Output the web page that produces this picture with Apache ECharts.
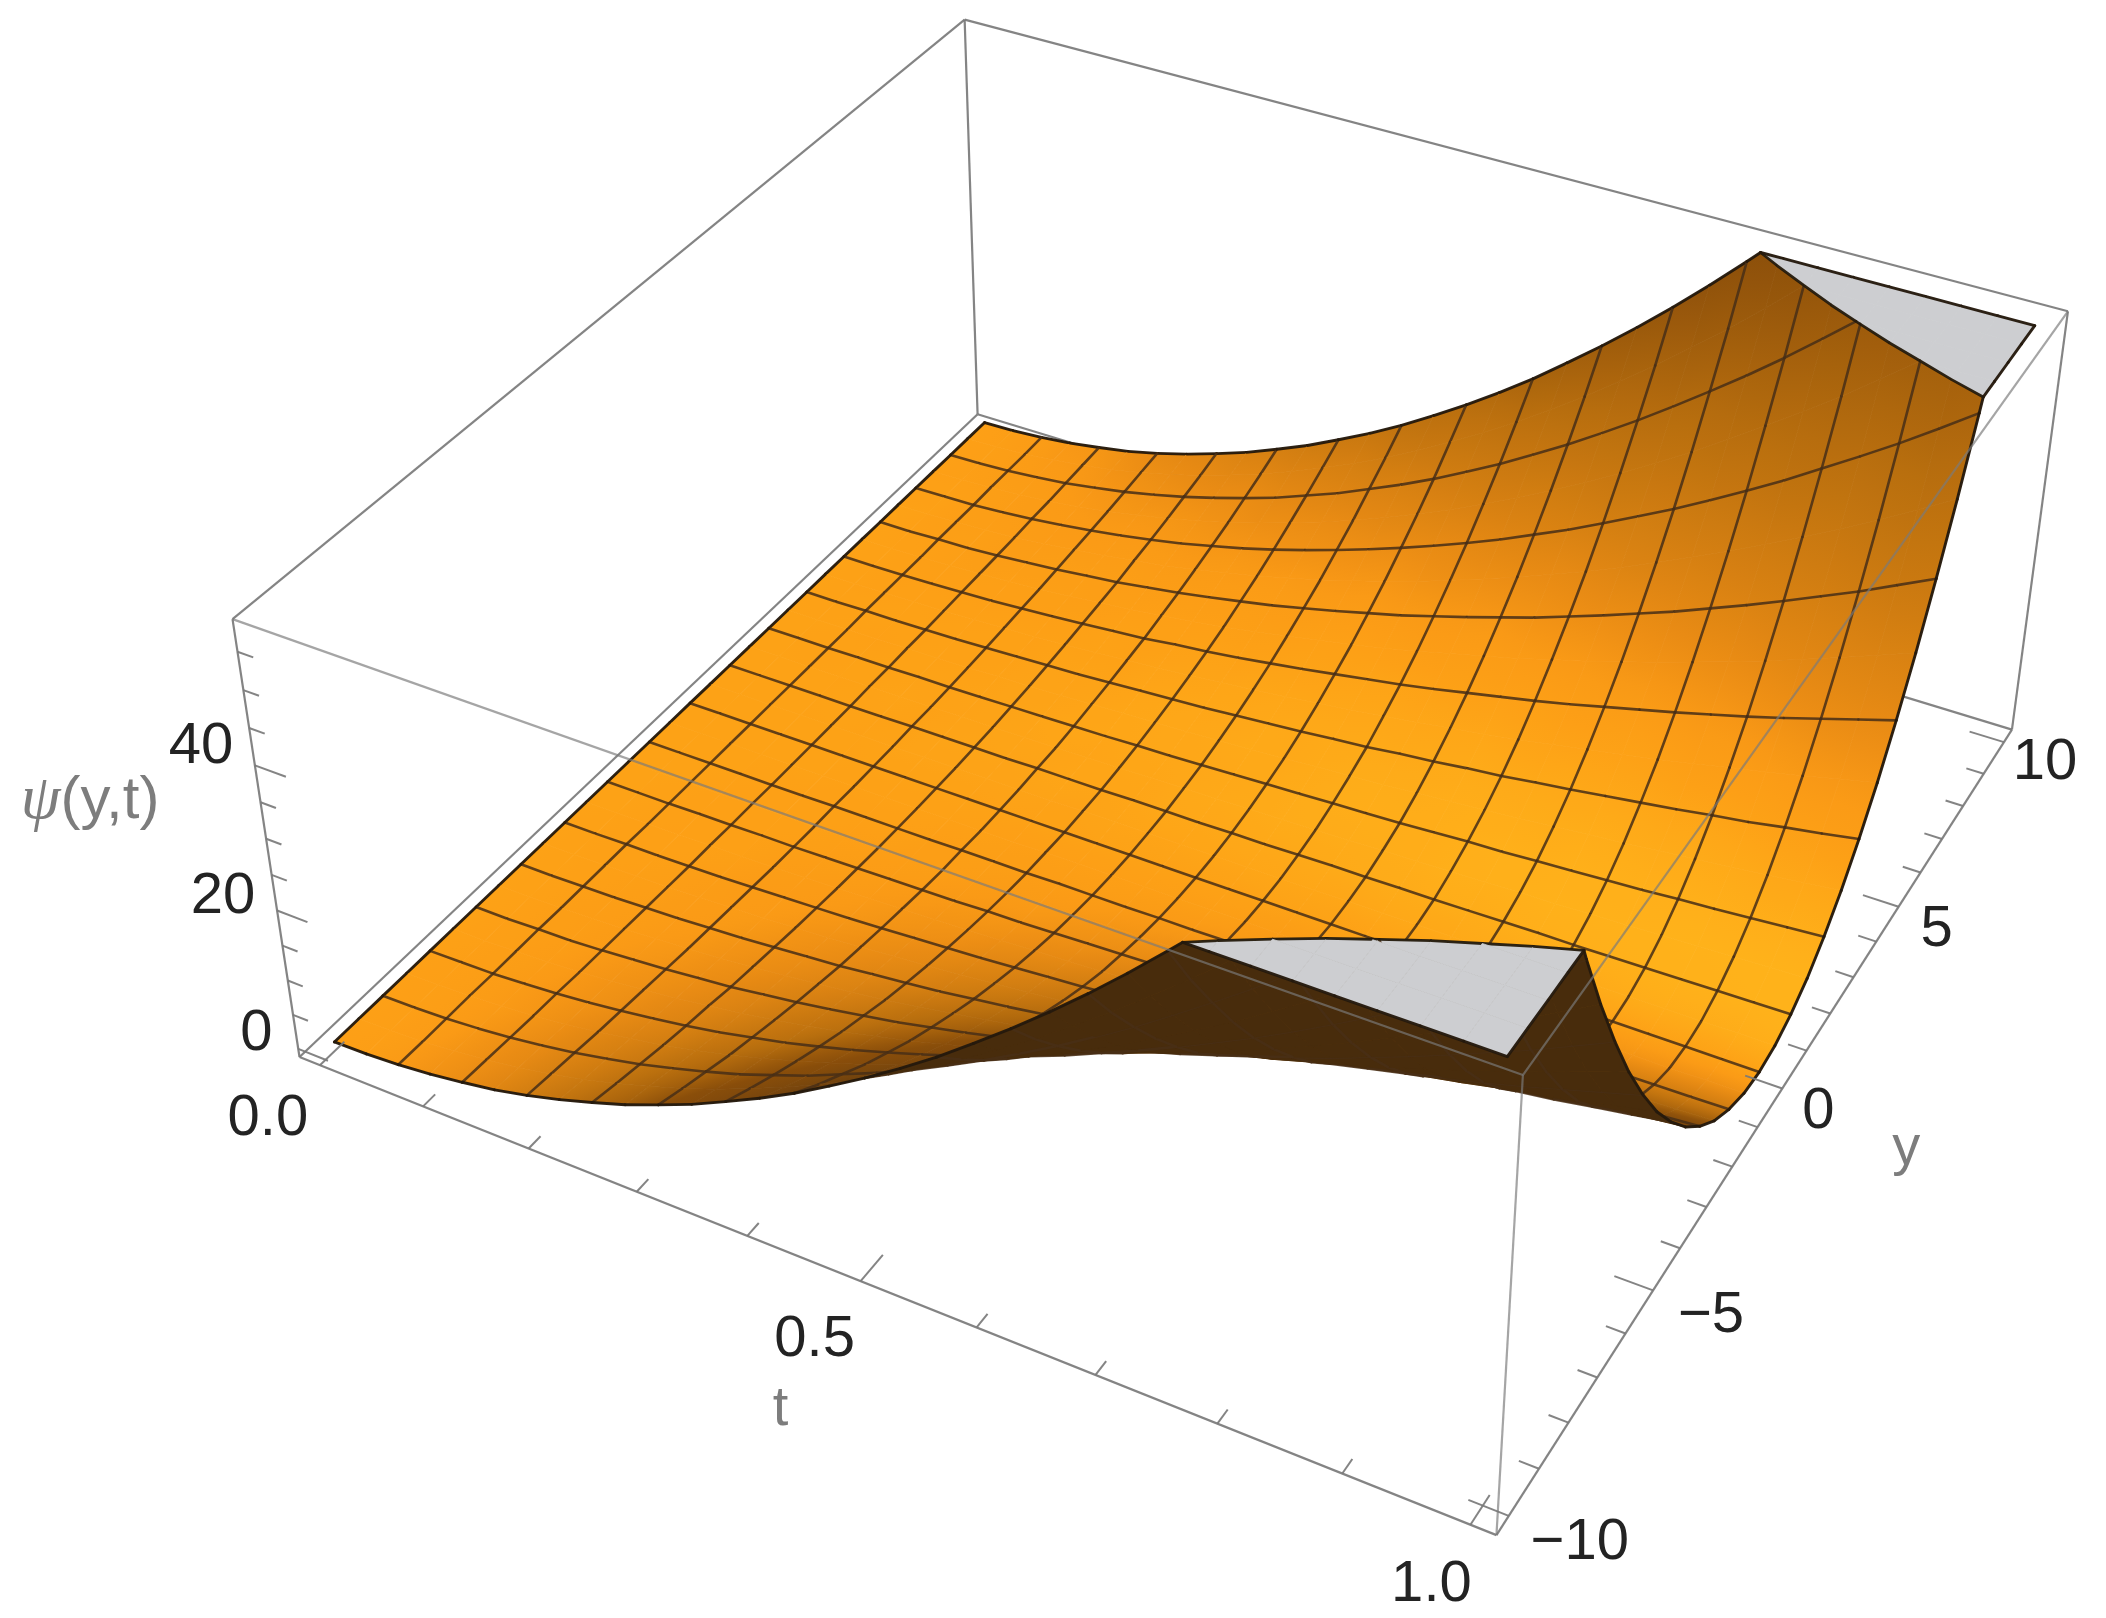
<!DOCTYPE html>
<html><head><meta charset="utf-8">
<style>html,body{margin:0;background:#fff}#c{width:2106px;height:1618px;filter:blur(0.6px)}</style>
<script src="https://cdn.jsdelivr.net/npm/echarts@6/dist/echarts.min.js"></script>
</head><body><div id="c"></div>
<script>
// ---- data ----
const tTicks=[0,0.1,0.2,0.3,0.4,0.5,0.6,0.7,0.8,0.9,1];
const tLabels=["0.0","0.5","1.0"];
const tLabelValues=[0,0.5,1];
const yTicks=[-10,-9,-8,-7,-6,-5,-4,-3,-2,-1,0,1,2,3,4,5,6,7,8,9,10];
const yLabels=["\u221210","\u22125","0","5","10"];
const yLabelValues=[-10,-5,0,5,10];
const zTicks=[0,5,10,15,20,25,30,35,40,45,50,55];
const zLabels=["0","20","40"];
const zLabelValues=[0,20,40];
const zTop=58;
// psi at |y| = 0, 0.625, ... 10 (rows), t = 0, 1/32, ... 1 (columns); the surface is mirror-symmetric in y
const psiRows=[
[0,0,0,0,0,0,0,0,0,0,0,0,0,0,0,0,0,0,0,0,0,0,0,0,0,0,0,0,0,0,0,0,0],
[0,0,0,0,0,0,0,0,0,0,0,0,.1,.1,.1,.1,.1,.1,.1,.1,.2,.2,.2,.2,.2,.2,.3,.3,.3,.3,.3,.4,.4],
[0,0,0,0,0,0,.1,.1,.1,.1,.2,.2,.2,.3,.3,.3,.4,.4,.5,.6,.6,.7,.7,.8,.9,1,1,1.1,1.2,1.3,1.4,1.5,1.6],
[0,0,0,0,.1,.1,.1,.2,.2,.3,.3,.4,.5,.6,.7,.8,.9,1,1.1,1.2,1.4,1.5,1.7,1.8,2,2.1,2.3,2.5,2.7,2.9,3.1,3.3,3.5],
[0,0,0,.1,.1,.2,.2,.3,.4,.5,.6,.7,.9,1,1.2,1.4,1.6,1.8,2,2.2,2.4,2.7,3,3.2,3.5,3.8,4.1,4.4,4.8,5.1,5.5,5.9,6.3],
[0,0,0,.1,.2,.2,.3,.5,.6,.8,1,1.2,1.4,1.6,1.9,2.1,2.4,2.8,3.1,3.4,3.8,4.2,4.6,5,5.5,6,6.4,7,7.5,8,8.6,9.2,9.8],
[0,0,.1,.1,.2,.3,.5,.7,.9,1.1,1.4,1.7,2,2.3,2.7,3.1,3.5,4,4.4,5,5.5,6.1,6.6,7.3,7.9,8.6,9.3,10,10.8,11.5,12.4,13.2,14.1],
[0,0,.1,.2,.3,.5,.7,.9,1.2,1.5,1.9,2.3,2.7,3.2,3.7,4.2,4.8,5.4,6.1,6.7,7.5,8.2,9,9.9,10.8,11.7,12.6,13.6,14.7,15.7,16.8,18,19.1],
[0,0,.1,.2,.4,.6,.9,1.2,1.6,2,2.4,3,3.5,4.1,4.8,5.5,6.3,7.1,7.9,8.8,9.8,10.8,11.8,12.9,14.1,15.3,16.5,17.8,19.1,20.5,22,23.5,25],
[0,0,.1,.3,.5,.8,1.1,1.5,2,2.5,3.1,3.7,4.4,5.2,6.1,7,7.9,8.9,10,11.2,12.4,13.6,15,16.3,17.8,19.3,20.9,22.5,24.2,26,27.8,29.7,31.6],
[0,0,.2,.3,.6,1,1.4,1.9,2.4,3.1,3.8,4.6,5.5,6.4,7.5,8.6,9.8,11,12.4,13.8,15.3,16.8,18.5,20.2,22,23.8,25.8,27.8,29.9,32.1,34.3,36.7,39.1],
[0,0,.2,.4,.7,1.2,1.7,2.3,3,3.7,4.6,5.6,6.6,7.8,9,10.4,11.8,13.3,15,16.7,18.5,20.4,22.3,24.4,26.6,28.9,31.2,33.7,36.2,38.8,41.5,44.4,47.3],
[0,.1,.2,.5,.9,1.4,2,2.7,3.5,4.4,5.5,6.6,7.9,9.3,10.8,12.4,14.1,15.9,17.8,19.8,22,24.2,26.6,29.1,31.6,34.3,37.1,40,43.1,46.2,49.4,52.8,56.3],
[0,.1,.3,.6,1,1.6,2.3,3.2,4.1,5.2,6.4,7.8,9.3,10.9,12.6,14.5,16.5,18.6,20.9,23.3,25.8,28.4,31.2,34.1,37.1,40.3,43.6,47,50.5,54.2,58,62,66],
[0,.1,.3,.7,1.2,1.9,2.7,3.7,4.8,6.1,7.5,9,10.8,12.6,14.7,16.8,19.1,21.6,24.2,27,29.9,33,36.2,39.6,43.1,46.7,50.5,54.5,58.6,62.9,67.3,71.9,76.6],
[0,.1,.3,.8,1.4,2.1,3.1,4.2,5.5,7,8.6,10.4,12.4,14.5,16.8,19.3,22,24.8,27.8,31,34.3,37.9,41.5,45.4,49.4,53.6,58,62.6,67.3,72.2,77.2,82.5,87.9],
[0,.1,.4,.9,1.6,2.4,3.5,4.8,6.3,7.9,9.8,11.8,14.1,16.5,19.1,22,25,28.2,31.6,35.3,39.1,43.1,47.3,51.7,56.3,61,66,71.2,76.6,82.1,87.9,93.8,100]
];
// ---- camera: box coordinates -> plane of the hidden axes ----
const S=2106/1568;
function box(u,v,w){
  const D=1-.11755*u+.21577*v-.07*w;
  return [(760.2*u+661.9*v-62*w+223)*S/D,(221.6*u-412*v-358.3*w+787)*S/D,D];
}
const U=t=>(t+.02)/1.04, V=y=>(y+10.4)/20.8, W=z=>.02+.96*z/zTop;
const proj=(p)=>box(U(p[0]),V(p[1]),W(p[2]));
const N=32, R=32;
const gridT=i=>i/N, gridY=j=>-10+j*20/R;
const psiAt=(i,j)=>psiRows[Math.abs(j-R/2)][i];
const vert=(i,j)=>[gridT(i),gridY(j),psiAt(i,j)];
// ---- shading ramp ----
const ramp=[[.25,[108,64,14]],[.46,[138,78,10]],[.565,[184,110,14]],[.71,[234,140,20]],[.76,[250,154,22]],[.80,[253,160,22]],[.875,[255,177,26]],[.95,[255,186,28]]];
function shade(d){
  if(d<=ramp[0][0])return ramp[0][1];
  for(let k=1;k<ramp.length;k++){ if(d<=ramp[k][0]){const a=ramp[k-1],b=ramp[k],f=(d-a[0])/(b[0]-a[0]);
    return a[1].map((c,n)=>c+(b[1][n]-c)*f);} }
  return ramp[ramp.length-1][1];
}
const rgb=c=>'rgb('+c.map(x=>Math.round(x)).join(',')+')';
// light value at a grid node from neighbouring table entries
function nodeLight(i,j){
  const i0=Math.max(i-1,0),i1=Math.min(i+1,N),j0=Math.max(j-1,0),j1=Math.min(j+1,R);
  const a=.4*(W(psiAt(i1,j))-W(psiAt(i0,j)))/(U(gridT(i1))-U(gridT(i0)));
  const b=.4*(W(psiAt(i,j1))-W(psiAt(i,j0)))/(V(gridY(j1))-V(gridY(j0)));
  const L=Math.hypot(a,b,1),nu=-a/L,nv=-b/L,nw=1/L;
  const x=.88*nu+.47*nv, y=-.33*nu+.52*nv+.79*nw, z=.371*nu-.695*nv+.613*nw;
  return .2*x+.3*y+.93*z;
}
function isBack(q){
  const P=q.map(proj);let area=0;
  for(let k=0;k<4;k++){const a=P[k],b=P[(k+1)%4];area+=a[0]*b[1]-b[0]*a[1];}
  return area>0;
}
function clipZ(poly){
  const low=[],high=[],cut=[];
  for(let k=0;k<poly.length;k++){
    const a=poly[k],b=poly[(k+1)%poly.length];
    if(a[2]<=zTop)low.push(a);else high.push([a[0],a[1],zTop]);
    if((a[2]<=zTop)!==(b[2]<=zTop)){
      const f=(zTop-a[2])/(b[2]-a[2]);
      const c=[a[0]+(b[0]-a[0])*f,a[1]+(b[1]-a[1])*f,zTop];
      low.push(c);high.push(c);cut.push(c);
    }
  }
  return {low,high,cut};
}
const items=[];
const dep=ps=>ps.reduce((s,p)=>s+proj(p)[2],0)/ps.length;
for(let i=0;i<N;i++)for(let j=0;j<R;j++){
  const q=[vert(i,j),vert(i+1,j),vert(i+1,j+1),vert(i,j+1)];
  const c=clipZ(q);
  const depth=dep(q),back=isBack(q);
  const lights=[nodeLight(i,j),nodeLight(i+1,j),nodeLight(i+1,j+1),nodeLight(i,j+1)];
  if(c.low.length>2)items.push({k:'p',pts:c.low,q,lights,back,depth});
  if(c.high.length>2)items.push({k:'p',pts:c.high,flat:'#cdced1',depth});
  if(c.cut.length===2)items.push({k:'l',pts:c.cut,stroke:'rgba(36,26,12,.95)',lw:2.8,depth:depth-.006});
}
function seg(a,b,edge,keepCap){
  const depth=dep([a,b])-.006;
  const st=edge?'rgba(36,25,12,.96)':'rgba(72,46,22,.86)',lw=edge?2.9:2.6;
  const za=a[2],zb=b[2];
  if(za<=zTop&&zb<=zTop){items.push({k:'l',pts:[a,b],stroke:st,lw,depth});return;}
  if(za>zTop&&zb>zTop){ if(keepCap)items.push({k:'l',pts:[[a[0],a[1],zTop],[b[0],b[1],zTop]],stroke:st,lw,depth}); return;}
  const f=(zTop-za)/(zb-za),c=[a[0]+(b[0]-a[0])*f,a[1]+(b[1]-a[1])*f,zTop];
  const lo=za<=zTop?a:b,hi=za<=zTop?b:a;
  items.push({k:'l',pts:[lo,c],stroke:st,lw,depth});
  if(keepCap)items.push({k:'l',pts:[c,[hi[0],hi[1],zTop]],stroke:st,lw,depth});
}
for(let i=0;i<=N;i+=2)for(let j=0;j<R;j++)seg(vert(i,j),vert(i,j+1),i===0||i===N,i===N);
for(let j=0;j<=R;j+=2)for(let i=0;i<N;i++)seg(vert(i,j),vert(i+1,j),j===0||j===R,j===0||j===R);
items.sort((a,b)=>b.depth-a.depth);
// screen-space gradient that best follows the light values of a cell's four nodes
function cellFill(P,d){
  const mx=(P[0][0]+P[1][0]+P[2][0]+P[3][0])/4,my=(P[0][1]+P[1][1]+P[2][1]+P[3][1])/4,md=(d[0]+d[1]+d[2]+d[3])/4;
  let sxx=0,sxy=0,syy=0,sxd=0,syd=0;
  for(let k=0;k<4;k++){const x=P[k][0]-mx,y=P[k][1]-my,v=d[k]-md;sxx+=x*x;sxy+=x*y;syy+=y*y;sxd+=x*v;syd+=y*v;}
  const det=sxx*syy-sxy*sxy;
  if(Math.abs(det)<1e-6)return rgb(shade(md));
  const gx=(syy*sxd-sxy*syd)/det,gy=(sxx*syd-sxy*sxd)/det,g2=gx*gx+gy*gy;
  if(g2<1e-12)return rgb(shade(md));
  let lo=Infinity,hi=-Infinity;
  for(let k=0;k<4;k++){const s=((P[k][0]-mx)*gx+(P[k][1]-my)*gy)/g2;lo=Math.min(lo,s);hi=Math.max(hi,s);}
  return {type:'linear',global:true,x:mx+gx*lo,y:my+gy*lo,x2:mx+gx*hi,y2:my+gy*hi,
    colorStops:[{offset:0,color:rgb(shade(md+lo*g2))},{offset:.5,color:rgb(shade(md+(lo+hi)/2*g2))},{offset:1,color:rgb(shade(md+hi*g2))}]};
}
// ---- box ----
const corner={A:[0,0,0],B:[1,0,0],C:[1,1,0],D:[0,1,0],E:[0,0,1],F:[1,0,1],G:[1,1,1],H:[0,1,1]};
const backEdges=['HG','HE','HD','DA','DC'];
const frontEdges=[['AB',.92],['BC',.92],['AE',.92],['CG',.92],['EF',.68],['FG',.68],['FB',.68]];
const boxLines=[],frontLines=[];
backEdges.forEach(e=>boxLines.push([corner[e[0]],corner[e[1]],.92,2.2]));
frontEdges.forEach(e=>frontLines.push([corner[e[0][0]],corner[e[0][1]],e[1],2.2]));
tTicks.forEach(t=>{const L=tLabelValues.includes(t)?.03:.015;frontLines.push([[U(t),0,0],[U(t),L,0],.92,2]);});
yTicks.forEach(y=>{const L=yLabelValues.includes(y)?.03:.015;frontLines.push([[1,V(y),0],[1-L,V(y),0],.92,2]);});
zTicks.forEach(z=>{const L=zLabelValues.includes(z)?.028:.014;frontLines.push([[0,0,W(z)],[L,0,W(z)],.92,2]);});
// ---- text ----
const dark='#232323',gray='#7d7d7d';
const tOff=[[-52,54],[-46,59],[-39,60]];
const yOff=[[71,27],[58,26],[36,23],[38,23],[41,21]];
const zOff=[[-42,-15],[-54,-13],[-54,-18]];
const texts=[];
tLabels.forEach((s,i)=>{const p=box(U(tLabelValues[i]),0,0);texts.push({s,x:p[0]+tOff[i][0],y:p[1]+tOff[i][1],c:dark,fs:58});});
yLabels.forEach((s,i)=>{const p=box(1,V(yLabelValues[i]),0);texts.push({s,x:p[0]+yOff[i][0],y:p[1]+yOff[i][1],c:dark,fs:58});});
zLabels.forEach((s,i)=>{const p=box(0,0,W(zLabelValues[i]));texts.push({s,x:p[0]+zOff[i][0],y:p[1]+zOff[i][1],c:dark,fs:58});});
const pt=box(U(.5),0,0),py=box(1,V(0),0),pz=box(0,0,W(20));
texts.push({s:'t',x:pt[0]-80,y:pt[1]+128,c:gray,fs:56});
texts.push({s:'y',x:py[0]+124,y:py[1]+60,c:gray,fs:56});
texts.push({s:'{a|\u03c8}{b|(y,t)}',x:pz[0]-187,y:pz[1]-109,c:gray,fs:60,rich:true});

const chart=echarts.init(document.getElementById('c'),null,{renderer:'canvas'});
const lineSeries=(arr,z)=>({type:'custom',coordinateSystem:'cartesian2d',silent:true,animation:false,clip:false,z,progressive:0,
  data:arr.map((_,i)=>[i,0]),
  renderItem(params,api){
    const e=arr[api.value(0)];
    const a=api.coord(box(...e[0])),b=api.coord(box(...e[1]));
    return {type:'line',shape:{x1:a[0],y1:a[1],x2:b[0],y2:b[1]},style:{stroke:'rgba(122,122,122,'+e[2]+')',lineWidth:e[3]}};
  }});
chart.setOption({
  animation:false,backgroundColor:'#fff',
  grid:{left:0,right:0,top:0,bottom:0},
  xAxis:{type:'value',min:0,max:2106,show:false},
  yAxis:{type:'value',min:0,max:1618,inverse:true,show:false},
  series:[
    lineSeries(boxLines,1),
    {type:'custom',coordinateSystem:'cartesian2d',silent:true,animation:false,clip:false,z:2,progressive:0,
     data:items.map((_,i)=>[i,0]),
     renderItem(params,api){
       const it=items[api.value(0)];
       const pts=it.pts.map(p=>api.coord(proj(p).slice(0,2)));
       if(it.k==='p'){
         let fill=it.flat;
         if(!fill) fill=it.back?'rgb(72,44,12)':cellFill(it.q.map(p=>api.coord(proj(p).slice(0,2))),it.lights);
         return {type:'polygon',shape:{points:pts},style:{fill,stroke:fill,lineWidth:.8}};
       }
       return {type:'line',shape:{x1:pts[0][0],y1:pts[0][1],x2:pts[1][0],y2:pts[1][1]},style:{stroke:it.stroke,lineWidth:it.lw,lineCap:'round'}};
     }},
    lineSeries(frontLines,3),
    {type:'custom',coordinateSystem:'cartesian2d',silent:true,animation:false,clip:false,z:4,
     data:texts.map((_,i)=>[i,0]),
     renderItem(params,api){
       const o=texts[api.value(0)],c=api.coord([o.x,o.y]);
       const style={text:o.s,x:c[0],y:c[1],fill:o.c,fontFamily:'"Liberation Sans"',fontSize:o.fs,align:'center',verticalAlign:'middle'};
       if(o.rich)style.rich={a:{fontFamily:'"Liberation Serif"',fontStyle:'italic',fontSize:o.fs+4,fill:o.c},b:{fontFamily:'"Liberation Sans"',fontSize:o.fs,fill:o.c}};
       return {type:'text',style};
     }}
  ]
});
</script></body></html>
